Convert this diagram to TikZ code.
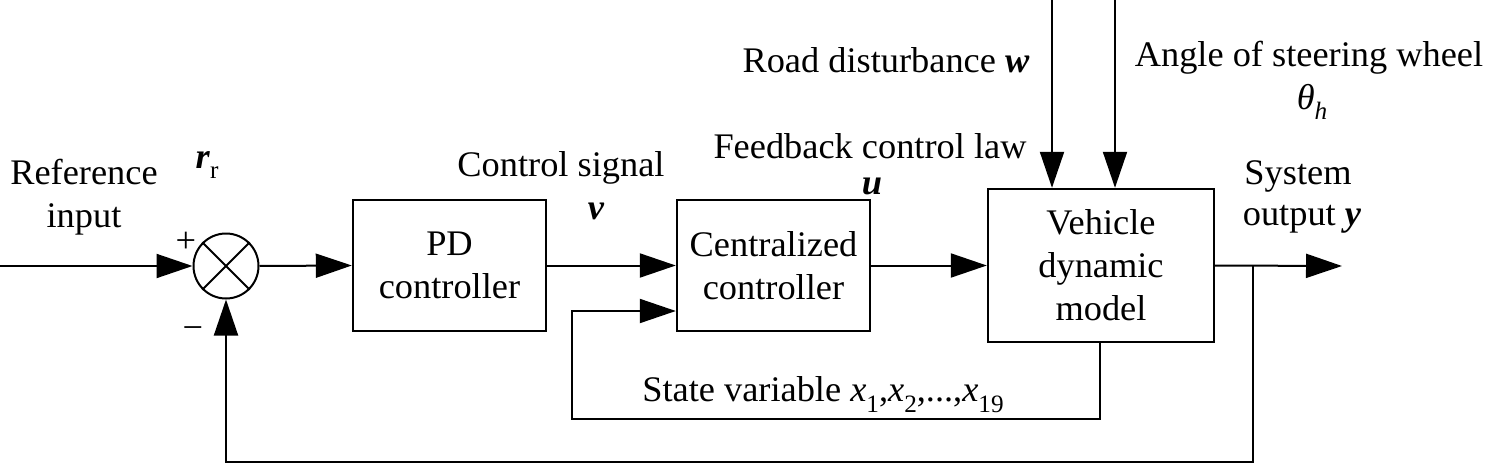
\documentclass[tikz,border=0pt]{standalone}
\usepackage{fontspec}
\setmainfont{Liberation Serif}[FakeStretch=1.01]
\usetikzlibrary{arrows.meta}
\newcommand\bi[1]{\textbf{\textit{#1}}}
\newcommand\mysub[1]{\raisebox{-0.3em}{\fontsize{25}{25}\selectfont #1}}
\begin{document}
\begin{tikzpicture}[x=1pt,y=-1pt,
  every node/.style={font=\fontsize{36}{43}\selectfont},
  blk/.style={draw,line width=2.4pt,minimum width=193pt,minimum height=131pt,align=center,inner sep=0pt},
  lbl/.style={align=center,inner sep=0pt},
  conn/.style={line width=2pt},
  arr/.style={conn,-{Triangle[length=36pt,width=24pt]}}]
\useasboundingbox (0,0) rectangle (1500,463);
\node[draw,circle,line width=2pt,minimum size=65pt,inner sep=0pt] (sum) at (226,266) {};
\draw[line width=2pt] (sum.45) -- (sum.225) (sum.135) -- (sum.315);
\node[blk] (pd) at (449.5,265.5) {PD\\controller};
\node[blk] (cen) at (773.5,265.5) {Centralized\\controller};
\node[blk,minimum width=226pt,minimum height=153pt] (veh) at (1101,265.5) {Vehicle\\dynamic\\model};
\coordinate (in) at (0,266);
\coordinate (out) at (1342,266);
\coordinate (br) at (1253,266);
\coordinate (fb1) at (1253,462);
\coordinate (fb2) at (226,462);
\coordinate (st0) at (1100,342);
\coordinate (st1) at (1100,419);
\coordinate (st2) at (572,419);
\coordinate (st3) at (572,311);
\coordinate (w0) at (1052,0);
\coordinate (t0) at (1115,0);
\draw[arr] (in) -- (sum.west);
\draw[arr] (sum.east) -- (pd.west);
\draw[arr] (pd.east) -- (cen.west);
\draw[arr] (cen.east) -- (veh.west);
\draw[arr] (veh.east) -- (out);
\draw[arr] (br) -- (fb1) -- (fb2) -- (sum.south);
\draw[arr] (st0) -- (st1) -- (st2) -- (st3) -- (st3 -| cen.west);
\draw[arr] (w0) -- (w0 |- veh.north);
\draw[arr] (t0) -- (t0 |- veh.north);
\node[lbl] (refin) at (84,197) {Reference\\input};
\node[lbl] (rr) at (207,165) {\bi{r}\mysub{r}};
\node[lbl] (plus) at (186,242) {+};
\node[lbl] (minus) at (193,333) {−};
\node[lbl] (cs) at (561,168) {Control signal};
\node[lbl] (v) at (596,211) {\bi{v}};
\node[lbl] (fcl) at (870,146) {Feedback control law};
\node[lbl] (u) at (872,186) {\bi{u}};
\node[lbl] (rd) at (886,60) {Road disturbance \bi{w}};
\node[lbl] (asw) at (1309,58) {Angle of steering wheel};
\node[lbl] (th) at (1312,102) {\textit{θ}\mysub{\textit{h}}};
\node[lbl] (sys) at (1298,176) {System};
\node[lbl] (so) at (1302,219) {output \bi{y}};
\node[lbl] (sv) at (823,395) {State variable \textit{x}\mysub{1},\textit{x}\mysub{2},...,\textit{x}\mysub{19}};
\end{tikzpicture}
\end{document}
